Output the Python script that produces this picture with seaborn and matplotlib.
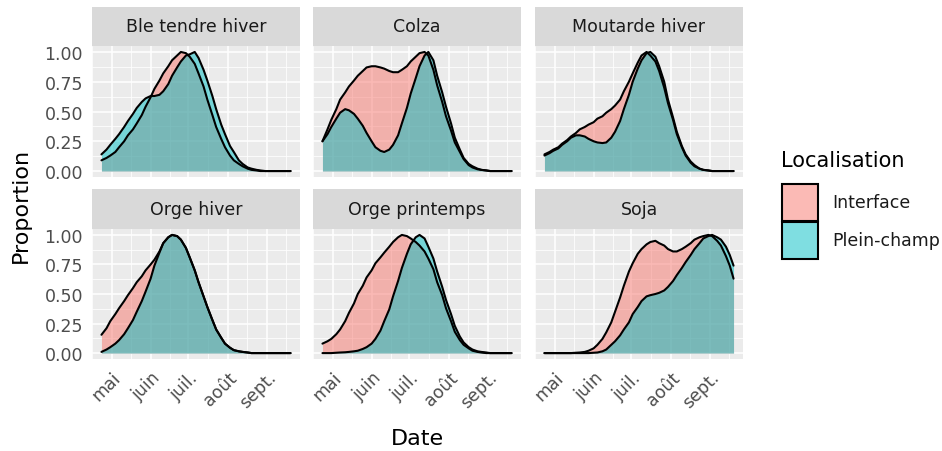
import pandas as pd
import matplotlib
matplotlib.use("Agg")
import matplotlib.pyplot as plt
import matplotlib.dates as mdates
from matplotlib.colors import to_rgba
from matplotlib.patches import Rectangle
import seaborn as sns

sns.set_theme(style="white")
plt.rcParams["font.family"] = ["DejaVu Sans"]

dates = pd.to_datetime([
    "2021-04-23", "2021-04-27", "2021-04-30", "2021-05-04", "2021-05-07",
    "2021-05-11", "2021-05-14", "2021-05-18", "2021-05-21", "2021-05-25",
    "2021-05-28", "2021-06-01", "2021-06-04", "2021-06-08", "2021-06-11",
    "2021-06-15", "2021-06-18", "2021-06-22", "2021-06-25", "2021-06-29",
    "2021-07-02", "2021-07-06", "2021-07-09", "2021-07-13", "2021-07-16",
    "2021-07-20", "2021-07-23", "2021-07-27", "2021-07-30", "2021-08-03",
    "2021-08-06", "2021-08-10", "2021-08-13", "2021-08-17", "2021-08-20",
    "2021-08-24", "2021-08-27", "2021-08-31", "2021-09-03", "2021-09-07",
    "2021-09-10", "2021-09-14", "2021-09-17", "2021-09-20",
])

crops = ["Ble tendre hiver", "Colza", "Moutarde hiver",
         "Orge hiver", "Orge printemps", "Soja"]
localisations = ["Interface", "Plein-champ"]

ble_interface = [0.09, 0.11, 0.13, 0.16, 0.20, 0.25, 0.30, 0.35, 0.40, 0.47, 0.54,
                 0.62, 0.69, 0.76, 0.82, 0.88, 0.93, 0.97, 1.00, 0.99, 0.96, 0.90,
                 0.82, 0.71, 0.60, 0.47, 0.37, 0.27, 0.20, 0.13, 0.09, 0.06, 0.04,
                 0.02, 0.01, 0.005, 0, 0, 0, 0, 0, 0, 0, 0]
ble_plein = [0.14, 0.18, 0.22, 0.27, 0.31, 0.37, 0.42, 0.48, 0.53, 0.58, 0.61,
             0.63, 0.63, 0.64, 0.67, 0.73, 0.80, 0.87, 0.92, 0.97, 0.98, 1.00,
             0.95, 0.85, 0.76, 0.63, 0.52, 0.39, 0.31, 0.21, 0.16, 0.09, 0.06,
             0.03, 0.02, 0.01, 0.005, 0, 0, 0, 0, 0, 0, 0]
colza_interface = [0.25, 0.35, 0.43, 0.52, 0.60, 0.66, 0.71, 0.76, 0.80, 0.84, 0.87,
                   0.88, 0.88, 0.87, 0.86, 0.84, 0.83, 0.83, 0.85, 0.88, 0.92, 0.96,
                   0.99, 1.00, 0.97, 0.85, 0.72, 0.58, 0.46, 0.34, 0.24, 0.16, 0.10,
                   0.05, 0.03, 0.015, 0.01, 0.005, 0, 0, 0, 0, 0, 0]
colza_plein = [0.25, 0.31, 0.37, 0.44, 0.49, 0.52, 0.51, 0.48, 0.44, 0.38, 0.32,
               0.25, 0.20, 0.17, 0.16, 0.18, 0.22, 0.30, 0.40, 0.53, 0.65, 0.78,
               0.88, 0.97, 1.00, 0.93, 0.80, 0.66, 0.54, 0.40, 0.28, 0.18, 0.11,
               0.06, 0.04, 0.02, 0.01, 0.005, 0, 0, 0, 0, 0, 0]
moutarde_interface = [0.14, 0.16, 0.18, 0.20, 0.23, 0.26, 0.29, 0.32, 0.35, 0.37, 0.39,
                      0.41, 0.44, 0.46, 0.49, 0.52, 0.55, 0.60, 0.67, 0.75, 0.82, 0.91,
                      0.97, 1.00, 0.97, 0.92, 0.84, 0.70, 0.57, 0.43, 0.31, 0.20, 0.13,
                      0.07, 0.04, 0.02, 0.01, 0.005, 0, 0, 0, 0, 0, 0]
moutarde_plein = [0.13, 0.15, 0.17, 0.19, 0.22, 0.25, 0.28, 0.30, 0.30, 0.29, 0.27,
                  0.25, 0.24, 0.235, 0.24, 0.28, 0.33, 0.42, 0.52, 0.64, 0.75, 0.86,
                  0.93, 0.99, 1.00, 0.96, 0.88, 0.75, 0.60, 0.45, 0.33, 0.21, 0.14,
                  0.08, 0.05, 0.02, 0.01, 0.005, 0, 0, 0, 0, 0, 0]
orge_hiver_interface = [0.155, 0.21, 0.27, 0.33, 0.38, 0.44, 0.49, 0.55, 0.60, 0.65, 0.70,
                        0.75, 0.79, 0.86, 0.93, 0.98, 1.00, 0.99, 0.96, 0.89, 0.81, 0.70,
                        0.60, 0.48, 0.39, 0.28, 0.20, 0.13, 0.08, 0.045, 0.025, 0.015, 0.01,
                        0.005, 0, 0, 0, 0, 0, 0, 0, 0, 0, 0]
orge_hiver_plein = [0.01, 0.03, 0.05, 0.08, 0.11, 0.16, 0.21, 0.28, 0.35, 0.44, 0.52,
                    0.63, 0.74, 0.85, 0.93, 0.98, 1.00, 0.99, 0.96, 0.89, 0.81, 0.70,
                    0.60, 0.48, 0.39, 0.28, 0.20, 0.13, 0.08, 0.045, 0.025, 0.015, 0.01,
                    0.005, 0, 0, 0, 0, 0, 0, 0, 0, 0, 0]
orge_printemps_interface = [0.08, 0.10, 0.12, 0.16, 0.20, 0.27, 0.34, 0.42, 0.50, 0.57, 0.64,
                            0.70, 0.76, 0.81, 0.85, 0.90, 0.94, 0.98, 1.00, 0.99, 0.97, 0.94,
                            0.91, 0.86, 0.80, 0.71, 0.60, 0.49, 0.38, 0.27, 0.18, 0.11, 0.07,
                            0.04, 0.02, 0.01, 0.005, 0, 0, 0, 0, 0, 0, 0]
orge_printemps_plein = [0, 0, 0, 0.003, 0.005, 0.007, 0.01, 0.015, 0.02, 0.035, 0.05,
                        0.08, 0.12, 0.19, 0.27, 0.37, 0.48, 0.61, 0.72, 0.84, 0.92, 0.98,
                        1.00, 0.97, 0.90, 0.80, 0.69, 0.56, 0.45, 0.33, 0.23, 0.14, 0.09,
                        0.05, 0.03, 0.015, 0.01, 0.005, 0, 0, 0, 0, 0, 0]
soja_interface = [0, 0, 0, 0, 0, 0, 0, 0.003, 0.005, 0.01, 0.02,
                  0.04, 0.07, 0.12, 0.175, 0.26, 0.35, 0.47, 0.57, 0.69, 0.76, 0.84,
                  0.88, 0.92, 0.94, 0.95, 0.93, 0.91, 0.88, 0.86, 0.86, 0.88, 0.90,
                  0.93, 0.96, 0.98, 0.99, 1.00, 0.99, 0.95, 0.91, 0.82, 0.74, 0.63]
soja_plein = [0, 0, 0, 0, 0, 0, 0, 0, 0, 0, 0,
              0.003, 0.005, 0.015, 0.03, 0.07, 0.10, 0.15, 0.20, 0.26, 0.33, 0.39,
              0.44, 0.48, 0.49, 0.50, 0.51, 0.53, 0.56, 0.61, 0.66, 0.72, 0.77,
              0.83, 0.88, 0.93, 0.97, 0.99, 1.00, 0.98, 0.96, 0.90, 0.83, 0.74]

series = {
    ("Ble tendre hiver", "Interface"): ble_interface,
    ("Ble tendre hiver", "Plein-champ"): ble_plein,
    ("Colza", "Interface"): colza_interface,
    ("Colza", "Plein-champ"): colza_plein,
    ("Moutarde hiver", "Interface"): moutarde_interface,
    ("Moutarde hiver", "Plein-champ"): moutarde_plein,
    ("Orge hiver", "Interface"): orge_hiver_interface,
    ("Orge hiver", "Plein-champ"): orge_hiver_plein,
    ("Orge printemps", "Interface"): orge_printemps_interface,
    ("Orge printemps", "Plein-champ"): orge_printemps_plein,
    ("Soja", "Interface"): soja_interface,
    ("Soja", "Plein-champ"): soja_plein,
}

month_ticks = pd.to_datetime(["2021-05-01", "2021-06-01", "2021-07-01",
                              "2021-08-01", "2021-09-01"])
month_labels = ["mai", "juin", "juil.", "août", "sept."]
y_ticks = [0, 0.25, 0.5, 0.75, 1.0]
y_labels = ["0.00", "0.25", "0.50", "0.75", "1.00"]

df = pd.concat([
    pd.DataFrame({"Date": dates, "Proportion": vals, "Culture": crop, "Localisation": loc})
    for (crop, loc), vals in series.items()
], ignore_index=True)

colors = {"Interface": "#F8766D", "Plein-champ": "#00BFC4"}
ALPHA = 0.5

W, H = 942, 452
fig = plt.figure(figsize=(W / 100, H / 100), dpi=100)
fig.patch.set_facecolor("white")

col_left = [92, 313, 535]
panel_w = 208
row_top = [47, 230]
row_h = [131, 130]
strip_top = [8, 190]

xnum = mdates.date2num(dates)
pad = 0.05 * (xnum.max() - xnum.min())
xlim = (xnum.min() - pad, xnum.max() + pad)
major = mdates.date2num(month_ticks)
minor = [major[0] - (major[1] - major[0]) / 2]
minor += [(a + b) / 2 for a, b in zip(major[:-1], major[1:])]
minor += [major[-1] + (major[-1] - major[-2]) / 2]

for i, crop in enumerate(crops):
    r, c = divmod(i, 3)
    x0, y0 = col_left[c], row_top[r]
    ax = fig.add_axes([x0 / W, 1 - (y0 + row_h[r]) / H, panel_w / W, row_h[r] / H])
    ax.set_facecolor("#EBEBEB")
    for s in ax.spines.values():
        s.set_visible(False)

    sub = df[df["Culture"] == crop]
    for loc in localisations:
        d = sub[sub["Localisation"] == loc]
        ax.fill_between(d["Date"], 0, d["Proportion"], color=colors[loc],
                        alpha=ALPHA, lw=0, zorder=2)
        sns.lineplot(data=d, x="Date", y="Proportion", color="black", lw=1.5,
                     ax=ax, legend=False, zorder=3)

    ax.set_xlim(*xlim)
    ax.set_ylim(-0.05, 1.05)
    ax.set_xticks(major)
    ax.set_xticks(minor, minor=True)
    ax.set_yticks(y_ticks)
    ax.set_yticks([0.125, 0.375, 0.625, 0.875], minor=True)
    ax.grid(which="major", color="white", lw=1.1, zorder=0)
    ax.grid(which="minor", color="white", lw=0.55, zorder=0)
    ax.set_axisbelow(True)
    ax.set_xlabel("")
    ax.set_ylabel("")
    ax.tick_params(which="minor", length=0)
    ax.tick_params(which="major", length=4, width=1.0, color="#333333",
                   labelcolor="#4D4D4D", labelsize=12.5, pad=2.5)

    if r == 1:
        ax.set_xticklabels(month_labels, rotation=45, ha="right", va="top",
                           rotation_mode="anchor")
    else:
        ax.tick_params(axis="x", length=0, labelbottom=False)
    if c == 0:
        ax.set_yticklabels(y_labels)
    else:
        ax.tick_params(axis="y", length=0, labelleft=False)

    # facet strip
    sax = fig.add_axes([x0 / W, 1 - y0 / H, panel_w / W, (y0 - strip_top[r]) / H])
    sax.set_facecolor("#D9D9D9")
    sax.set_xticks([])
    sax.set_yticks([])
    for s in sax.spines.values():
        s.set_visible(False)
    sax.text(0.5, 0.5, crop, ha="center", va="center", fontsize=12.5,
             color="#1A1A1A", transform=sax.transAxes)

fig.text(21 / W, 1 - 205 / H, "Proportion", rotation=90, ha="center",
         va="center", fontsize=16, color="black")
fig.text(417 / W, 1 - 439 / H, "Date", ha="center", va="center",
         fontsize=16, color="black")

# legend drawn by hand so the keys stack edge to edge like ggplot
fig.text(781 / W, 1 - 161 / H, "Localisation", ha="left", va="center",
         fontsize=15, color="black")
key_top = [185, 223]
for loc, kt in zip(localisations, key_top):
    fig.add_artist(Rectangle((782 / W, 1 - (kt + 37) / H), 36 / W, 37 / H,
                             transform=fig.transFigure,
                             facecolor=to_rgba(colors[loc], ALPHA),
                             edgecolor="black", lw=1.5))
    fig.text(832 / W, 1 - (kt + 18.5) / H, loc, ha="left", va="center",
             fontsize=12.5, color="#1A1A1A")

fig.savefig("out.png", dpi=100)
